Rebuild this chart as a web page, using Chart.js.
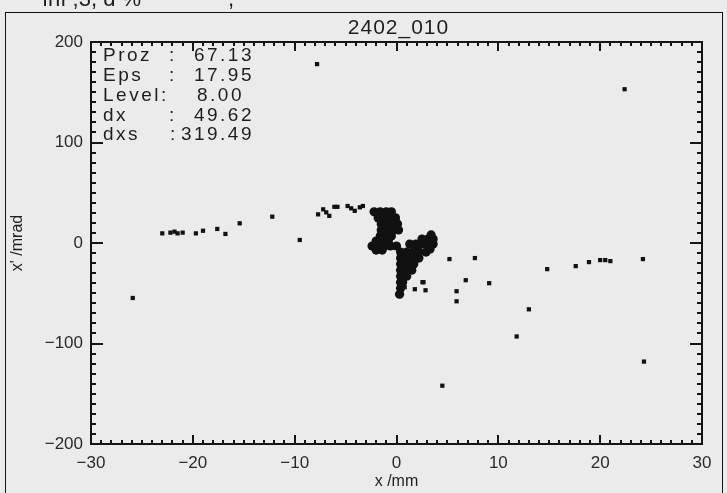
<!DOCTYPE html>
<html><head><meta charset="utf-8">
<script src="https://cdn.jsdelivr.net/npm/chart.js@4/dist/chart.umd.min.js"></script>
<style>html,body{margin:0;padding:0;background:#ebebeb;overflow:hidden}canvas{display:block}</style>
</head><body>
<canvas id="c" width="727" height="493"></canvas>
<script>
// ---- chart text ----
const chartTitle = '2402_010';
const xTitle = 'x /mm';
const yTitle = "x' /mrad";
const statLabels = ['Proz', 'Eps', 'Level:', 'dx', 'dxs'];
const statColons = [':', ':', '', ':', ':'];
const statValues = ['67.13', '17.95', '8.00', '49.62', '319.49'];
const xTicks = [-30, -20, -10, 0, 10, 20, 30];
const yTicks = [-200, -100, 0, 100, 200];

// ---- dense core of the distribution (x /mm, x' /mrad) ----
const coreX = [
  -2.2,-1.6,-1.0,-0.5,
  -1.8,-1.2,-0.6,-0.1,
  -1.5,-0.9,-0.3,0.1,
  -1.5,-0.9,-0.3,0.2,
  -1.6,-1.0,-0.5,
  -2.0,-1.4,-0.8,
  -2.4,-1.8,-1.2,-0.6,0.0,
  -2.0,-1.4,
  1.3,1.9,2.5,3.1,3.6,
  2.5,3.1,3.6,
  3.4,
  1.9,3.3,
  0.4,1.0,1.6,2.2,2.9,
  0.4,1.0,1.6,2.2,
  0.4,1.0,1.7,
  0.4,1.0,1.5,
  0.4,1.0,
  0.4,0.6,
  0.4,
  0.3
];
const coreY = [
  31,31,31,31,
  25,25,25,25,
  19,19,19,19,
  13,13,13,13,
  7,7,7,
  2,2,2,
  -3,-3,-3,-3,-3,
  -7,-7,
  -1,-1,-1,-1,-1,
  4,4,4,
  8,
  -6,-6,
  -9,-9,-9,-9,-9,
  -15,-15,-15,-15,
  -21,-21,-21,
  -27,-27,-27,
  -33,-33,
  -39,-39,
  -45,
  -51
];

// ---- isolated particles ----
const haloX = [
  -25.9,-7.8,22.4,24.3,4.5,11.8,13.0,14.8,17.6,18.9,20.0,20.5,21.0,24.2,
  5.2,7.7,6.8,9.1,5.9,5.9,2.65,2.85,1.8,2.55,0.8,
  -23.0,-22.2,-21.8,-21.5,-21.0,-19.7,-19.0,-17.6,-16.8,-15.4,-12.2,-9.5,
  -7.7,-7.2,-6.9,-6.6,-6.1,-5.8,-4.8,-4.45,-4.1,-3.6,-3.3
];
const haloY = [
  -54.7,178,153,-118,-142,-93,-66,-26,-23,-19,-17,-17,-18,-16,
  -16,-15,-37,-40,-48,-58,-39,-47,-46,-39,-44,
  9.6,10.3,11.3,9.6,10.3,9.6,12.2,14,9,19.6,26.2,3,
  28.5,33.5,30.5,27,36,36,36.8,34.5,32,35.5,36.8
];

const toPts = (xs, ys) => xs.map((x, i) => ({x: x, y: ys[i]}));
const fmt = v => (v < 0 ? '\u2212' + Math.abs(v) : String(v));
const FONT = "'Liberation Sans', Arial, Helvetica, sans-serif";
const INK = '#1e1e1e';

Chart.defaults.font.family = FONT;

const decor = {
  id: 'decor',
  beforeDraw(chart) {
    const c = chart.ctx;
    c.save();
    c.fillStyle = '#ebebeb';
    c.fillRect(0, 0, chart.width, chart.height);
    c.restore();
  },
  afterDatasetsDraw(chart) {
    const c = chart.ctx, xs = chart.scales.x, ys = chart.scales.y, a = chart.chartArea;
    c.save();
    c.strokeStyle = '#151515';
    c.lineWidth = 2;
    c.beginPath();
    for (let v = -30; v <= 30; v += 1) {
      const px = Math.round(xs.getPixelForValue(v));
      const len = (v % 10 === 0) ? 9 : 4;
      c.moveTo(px, a.bottom); c.lineTo(px, a.bottom - len);
      c.moveTo(px, a.top); c.lineTo(px, a.top + len);
    }
    for (let v = -200; v <= 200; v += 10) {
      const py = Math.round(ys.getPixelForValue(v));
      const len = (v % 100 === 0) ? 12 : 5;
      c.moveTo(a.left, py); c.lineTo(a.left + len, py);
      c.moveTo(a.right, py); c.lineTo(a.right - len, py);
    }
    c.stroke();
    c.lineWidth = 2;
    c.strokeRect(a.left, a.top, a.right - a.left, a.bottom - a.top);
    c.restore();
  },
  afterDraw(chart) {
    const c = chart.ctx, a = chart.chartArea;
    c.save();
    // outer frame
    c.strokeStyle = '#111';
    c.lineWidth = 1;
    c.strokeRect(5.5, 12.5, 717, 500);
    c.fillStyle = INK;
    // clipped line of text at very top
    c.font = '22px ' + FONT;
    c.textBaseline = 'alphabetic';
    c.textAlign = 'left';
    c.fillText('ını ;3, ɑ %', 42, 6);
    c.fillText(',', 228, 6);
    // title
    c.font = '21px ' + FONT;
    c.letterSpacing = '1px';
    c.textAlign = 'center';
    c.textBaseline = 'middle';
    c.fillText(chartTitle, (a.left + a.right) / 2 + 2, 28);
    // statistics box
    c.font = '19px ' + FONT;
    c.letterSpacing = '2.5px';
    const y0 = 56, dy = 19.8;
    statLabels.forEach((lab, i) => {
      const y = y0 + i * dy;
      c.textAlign = 'left';
      c.fillText(lab, 103, y);
      if (statColons[i]) c.fillText(statColons[i], i === 4 ? 170 : 169, y);
      c.textAlign = 'right';
      c.fillText(statValues[i], i === 2 ? 244 : 254, y);
    });
    c.restore();
  }
};

new Chart(document.getElementById('c'), {
  type: 'scatter',
  data: {
    datasets: [
      { data: toPts(coreX, coreY), pointStyle: 'circle', pointRadius: 4.6,
        backgroundColor: '#111', borderWidth: 0 },
      { data: toPts(haloX, haloY), pointStyle: 'rect', pointRadius: 3,
        backgroundColor: '#111', borderWidth: 0 }
    ]
  },
  options: {
    responsive: false,
    animation: false,
    devicePixelRatio: 1,
    layout: { padding: { left: 0, top: 42, right: 25, bottom: 0 } },
    plugins: { legend: { display: false }, tooltip: { enabled: false } },
    scales: {
      x: {
        type: 'linear', min: -30, max: 30,
        afterBuildTicks(s) { s.ticks = xTicks.map(v => ({ value: v })); },
        afterFit(s) { s.height = 49; },
        grid: { display: false, drawTicks: false },
        border: { display: false },
        ticks: { padding: 9, color: '#2a2a2a', font: { size: 17 }, callback: v => fmt(v),
                 maxRotation: 0, autoSkip: false },
        title: { display: true, text: xTitle, color: INK, font: { size: 16 },
                 padding: { top: 0, bottom: 2 } }
      },
      y: {
        type: 'linear', min: -200, max: 200,
        afterBuildTicks(s) { s.ticks = yTicks.map(v => ({ value: v })); },
        afterFit(s) { s.width = 91; },
        grid: { display: false, drawTicks: false },
        border: { display: false },
        ticks: { padding: 8, color: '#2a2a2a', font: { size: 17 }, callback: v => fmt(v),
                 autoSkip: false },
        title: { display: true, text: yTitle, color: INK, font: { size: 16 },
                 padding: { top: 8, bottom: 0 } }
      }
    }
  },
  plugins: [decor]
});
</script>
</body></html>
